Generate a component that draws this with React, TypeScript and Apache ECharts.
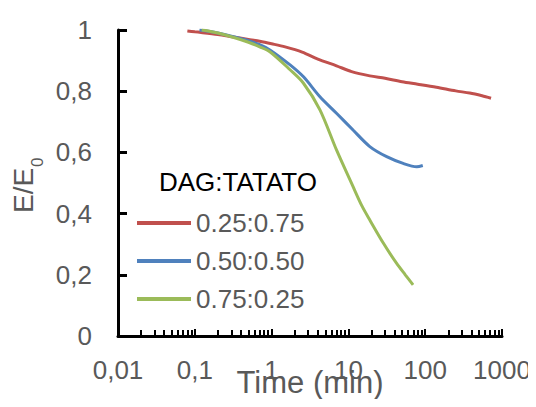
import React, { useEffect, useRef } from "react";
import * as echarts from "echarts";

const seriesNames = ["0.25:0.75", "0.50:0.50", "0.75:0.25"];
const seriesColors = ["#C0504D", "#4F81BD", "#9BBB59"];

const redData: [number, number][] = [
  [0.08, 0.997], [0.1, 0.994], [0.2, 0.985], [0.3, 0.978], [0.5, 0.969],
  [0.7, 0.963], [1, 0.955], [1.5, 0.945], [2.5, 0.928], [4, 0.905],
  [7, 0.883], [11, 0.864], [19, 0.850], [30, 0.842], [50, 0.831],
  [80, 0.823], [140, 0.813], [250, 0.801], [380, 0.794], [550, 0.785], [720, 0.777],
];
const blueData: [number, number][] = [
  [0.115, 1.0], [0.15, 0.996], [0.2, 0.99], [0.3, 0.98], [0.5, 0.965],
  [0.7, 0.952], [0.95, 0.935], [1.74, 0.886], [2.6, 0.847], [4.26, 0.782],
  [7, 0.728], [11.5, 0.673], [19, 0.619], [31.5, 0.586], [51.6, 0.564],
  [77.6, 0.553], [93, 0.557],
];
const greenData: [number, number][] = [
  [0.123, 1.0], [0.15, 0.997], [0.2, 0.99], [0.3, 0.978], [0.5, 0.96],
  [0.7, 0.945], [0.95, 0.929], [1.74, 0.87], [2.6, 0.826], [4.26, 0.739],
  [7, 0.608], [11.5, 0.488], [15, 0.425], [19, 0.379], [28.6, 0.303],
  [42.5, 0.237], [55, 0.2], [69.5, 0.167],
];
const allData = [redData, blueData, greenData];

const legendTitle = "DAG:TATATO";
const xTitle = "Time (min)";
const yTitleMain = "E/E";
const yTitleSub = "0";

const FONT = "'Liberation Sans', Arial, sans-serif";
const GRAY = "#595959";

export default function App() {
  const ref = useRef<HTMLDivElement>(null);
  useEffect(() => {
    if (!ref.current) return;
    const chart = echarts.init(ref.current, null, { renderer: "svg" });
    chart.setOption({
      animation: false,
      textStyle: { fontFamily: FONT },
      grid: {
        left: 118, right: 34, top: 30, bottom: 71,
        containLabel: false, outerBoundsMode: "none",
      },
      title: {
        text: legendTitle,
        left: 159,
        top: 169,
        padding: 0,
        textStyle: { color: "#000", fontSize: 26, fontWeight: "normal", fontFamily: FONT },
      },
      legend: {
        orient: "vertical",
        left: 137,
        top: 210,
        padding: 0,
        itemWidth: 54,
        itemHeight: 4,
        itemGap: 12,
        icon: "rect",
        textStyle: { color: GRAY, fontSize: 26, lineHeight: 26, fontFamily: FONT },
        data: seriesNames,
      },
      xAxis: {
        type: "log",
        logBase: 10,
        min: 0.01,
        max: 1000,
        name: xTitle,
        nameLocation: "middle",
        nameGap: 31,
        nameMoveOverlap: false,
        nameTextStyle: { color: GRAY, fontSize: 31, fontFamily: FONT, verticalAlign: "top" },
        axisLine: { show: true, onZero: false, lineStyle: { color: "#000", width: 3 } },
        axisTick: { show: true, inside: true, length: 7, lineStyle: { color: "#000", width: 2 } },
        minorTick: { show: true, splitNumber: 9, length: 6, lineStyle: { color: "#000", width: 2 } },
        splitLine: { show: false },
        minorSplitLine: { show: false },
        axisLabel: {
          color: GRAY,
          fontSize: 26,
          margin: 21,
          fontFamily: FONT,
          formatter: (v: number) => String(v).replace(".", ","),
        },
      },
      yAxis: {
        type: "value",
        min: 0,
        max: 1,
        interval: 0.2,
        axisLine: { show: true, lineStyle: { color: "#000", width: 3 } },
        axisTick: { show: true, inside: true, length: 9, lineStyle: { color: "#000", width: 3 } },
        splitLine: { show: false },
        axisLabel: {
          color: GRAY,
          fontSize: 26,
          margin: 26,
          fontFamily: FONT,
          formatter: (v: number) => String(Math.round(v * 10) / 10).replace(".", ","),
        },
      },
      graphic: [
        {
          type: "text",
          x: 23,
          y: 213,
          rotation: Math.PI / 2,
          style: {
            text: yTitleMain,
            textAlign: "left",
            textVerticalAlign: "middle",
            fill: GRAY,
            fontSize: 28,
            fontFamily: FONT,
          },
        },
        {
          type: "text",
          x: 37,
          y: 167,
          rotation: Math.PI / 2,
          style: {
            text: yTitleSub,
            textAlign: "left",
            textVerticalAlign: "middle",
            fill: GRAY,
            fontSize: 17,
            fontFamily: FONT,
          },
        },
      ],
      series: allData.map((d, i) => ({
        name: seriesNames[i],
        type: "line",
        data: d,
        smooth: 0.3,
        symbol: "none",
        lineStyle: { color: seriesColors[i], width: 3 },
        itemStyle: { color: seriesColors[i] },
      })),
    });
    return () => chart.dispose();
  }, []);
  return <div ref={ref} style={{ width: 536, height: 407, margin: -8 }} />;
}
